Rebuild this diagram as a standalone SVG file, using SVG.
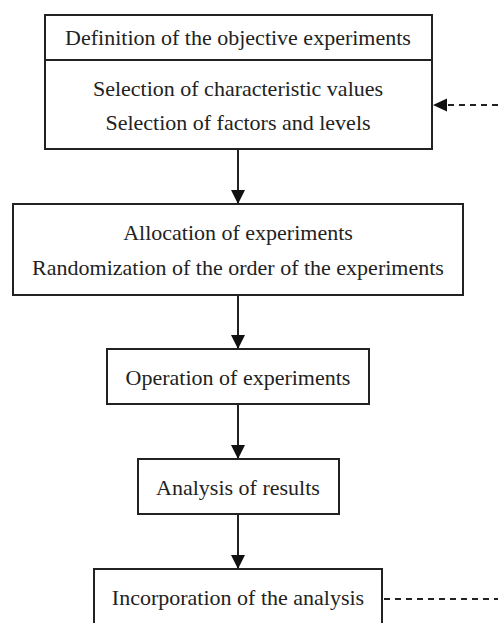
<svg xmlns="http://www.w3.org/2000/svg" width="498" height="623" viewBox="0 0 498 623">
<style>
.b{fill:#fff;stroke:#222;stroke-width:2}
text{font-family:"Liberation Serif","Times New Roman",serif;font-size:22px;fill:#222;text-anchor:middle}
.c{stroke:#222;stroke-width:2;fill:none}
.d{stroke:#222;stroke-width:2;fill:none;stroke-dasharray:6,5}
</style>
<defs>
<marker id="ah" viewBox="0 0 14 14" refX="14" refY="7" markerWidth="14" markerHeight="14" markerUnits="userSpaceOnUse" orient="auto">
<path d="M0,0 L14,7 L0,14 Z" fill="#111"/>
</marker>
</defs>
<rect width="498" height="623" fill="#fff"/>
<g id="connectors">
<line class="c" x1="238" y1="149" x2="238" y2="204" marker-end="url(#ah)"/>
<line class="c" x1="238" y1="295" x2="238" y2="349" marker-end="url(#ah)"/>
<line class="c" x1="238" y1="404" x2="238" y2="459" marker-end="url(#ah)"/>
<line class="c" x1="238" y1="514" x2="238" y2="569" marker-end="url(#ah)"/>
<line class="d" x1="498" y1="105" x2="447" y2="105"/>
<path d="M447,98.5 L433,105 L447,111.5 Z" fill="#111"/>
<line class="d" x1="384" y1="599" x2="498" y2="599"/>
</g>
<g id="n1">
<rect class="b" x="45" y="15" width="387" height="134"/>
<line class="c" x1="45" y1="60" x2="432" y2="60"/>
<text x="238" y="45">Definition of the objective experiments</text>
<text x="238" y="96">Selection of characteristic values</text>
<text x="238" y="130">Selection of factors and levels</text>
</g>
<g id="n2">
<rect class="b" x="13" y="204" width="450" height="91"/>
<text x="238" y="240">Allocation of experiments</text>
<text x="238" y="275">Randomization of the order of the experiments</text>
</g>
<g id="n3">
<rect class="b" x="107" y="349" width="262" height="55"/>
<text x="238" y="385">Operation of experiments</text>
</g>
<g id="n4">
<rect class="b" x="138" y="459" width="201" height="55"/>
<text x="238" y="495">Analysis of results</text>
</g>
<g id="n5">
<rect class="b" x="94" y="569" width="288" height="70"/>
<text x="238" y="605">Incorporation of the analysis</text>
</g>
</svg>
